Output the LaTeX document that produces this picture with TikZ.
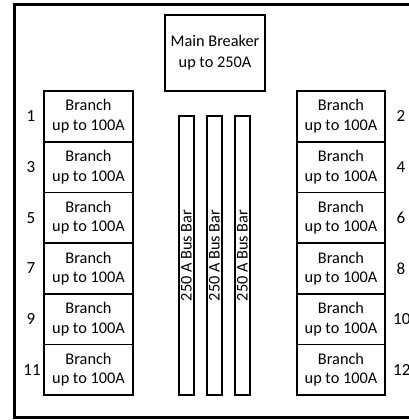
\documentclass[tikz,border=0pt]{standalone}
\usepackage{fontspec}
\setmainfont{Carlito}
\usepackage{xcolor}
\usepackage{tikz}
\usetikzlibrary{positioning}

\begin{document}
\begin{tikzpicture}[x=1pt, y=-1pt,
	font=\fontsize{16.3}{19.5}\selectfont,
	box/.style={draw, line width=1.6pt, inner sep=0pt, outer sep=0pt, align=center},
	branch/.style={box, minimum width=89pt, minimum height=50.7pt},
	busbar/.style={box, minimum width=279pt, minimum height=15pt, rotate=90},
	num/.style={inner sep=0pt, font=\fontsize{17}{20}\selectfont}]
	\useasboundingbox (0,0) rectangle (409,420);
	
	% outer frame of the panel
	\draw[line width=3pt] (14,5) rectangle (425,417);
	
	% main breaker
	\node[box, minimum width=100pt, minimum height=76pt] (main) at (215,53)
	{Main Breaker\\[1.5pt]up to 250A};
	
	% left column (odd numbers)
	\node[branch] (b1) at (88.5,116.35) {Branch\\up to 100A};
	\node[branch, below=0pt of b1] (b3) {Branch\\up to 100A};
	\node[branch, below=0pt of b3] (b5) {Branch\\up to 100A};
	\node[branch, below=0pt of b5] (b7) {Branch\\up to 100A};
	\node[branch, below=0pt of b7] (b9) {Branch\\up to 100A};
	\node[branch, below=0pt of b9] (b11) {Branch\\up to 100A};
	
	% right column (even numbers)
	\node[branch, minimum width=88pt] (b2) at (341,116.35) {Branch\\up to 100A};
	\node[branch, minimum width=88pt, below=0pt of b2] (b4) {Branch\\up to 100A};
	\node[branch, minimum width=88pt, below=0pt of b4] (b6) {Branch\\up to 100A};
	\node[branch, minimum width=88pt, below=0pt of b6] (b8) {Branch\\up to 100A};
	\node[branch, minimum width=88pt, below=0pt of b8] (b10) {Branch\\up to 100A};
	\node[branch, minimum width=88pt, below=0pt of b10] (b12) {Branch\\up to 100A};
	
	% slot numbers
	\node[num] (n1) at ([xshift=-13pt]b1.west) {1};
	\node[num] (n3) at ([xshift=-13pt]b3.west) {3};
	\node[num] (n5) at ([xshift=-13pt]b5.west) {5};
	\node[num] (n7) at ([xshift=-13pt]b7.west) {7};
	\node[num] (n9) at ([xshift=-13pt]b9.west) {9};
	\node[num] (n11) at ([xshift=-12pt]b11.west) {11};
	\node[num] (n2) at ([xshift=16pt]b2.east) {2};
	\node[num] (n4) at ([xshift=16pt]b4.east) {4};
	\node[num] (n6) at ([xshift=16pt]b6.east) {6};
	\node[num] (n8) at ([xshift=16pt]b8.east) {8};
	\node[num, anchor=west] (n10) at ([xshift=8pt]b10.east) {10};
	\node[num, anchor=west] (n12) at ([xshift=8pt]b12.east) {12};
	
	% bus bars
	\node[busbar] (bar1) at (186.5,255.5) {250 A Bus Bar};
	\node[busbar] (bar2) at (214.5,255.5) {250 A Bus Bar};
	\node[busbar] (bar3) at (242.5,255.5) {250 A Bus Bar};
\end{tikzpicture}
\end{document}
